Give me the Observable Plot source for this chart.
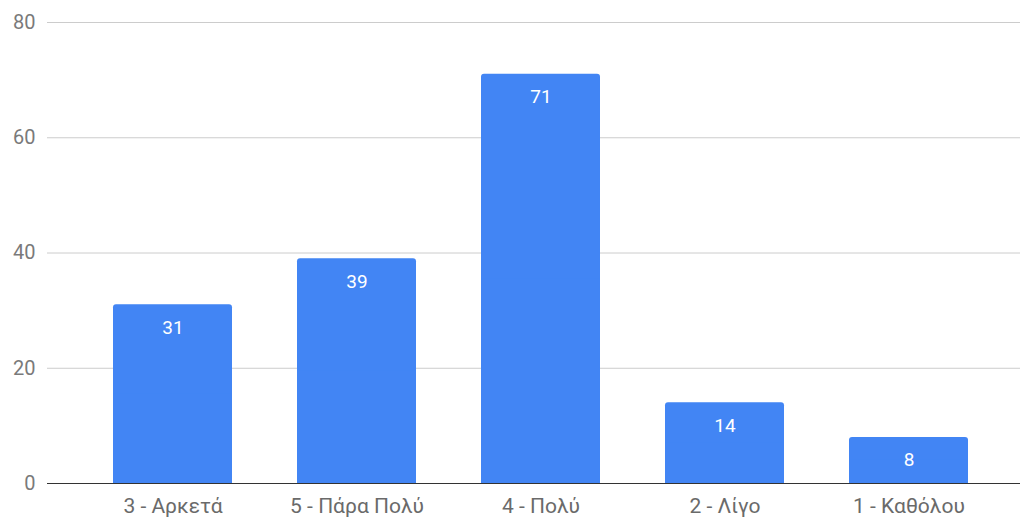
<!DOCTYPE html>
<html>
<head>
<meta charset="utf-8">
<script src="https://cdn.jsdelivr.net/npm/d3@7"></script>
<script src="https://cdn.jsdelivr.net/npm/@observablehq/plot@0.6"></script>
<style>
  html, body { margin: 0; padding: 0; background: #fff; }
  svg { display: block; }
</style>
</head>
<body>
<div id="chart"></div>
<script>
const categories = ["3 - Αρκετά", "5 - Πάρα Πολύ", "4 - Πολύ", "2 - Λίγο", "1 - Καθόλου"];
const values = [31, 39, 71, 14, 8];
const yTicks = [0, 20, 40, 60, 80];

const data = categories.map((c, i) => ({category: c, value: values[i]}));

const chart = Plot.plot({
  width: 1020,
  height: 518,
  marginTop: 22,
  marginBottom: 35,
  marginLeft: 47,
  marginRight: 0,
  style: {fontFamily: "Roboto, sans-serif", background: "#fff"},
  x: {domain: categories, range: [112, 969], paddingInner: 0.355, paddingOuter: 0, label: null},
  y: {domain: [0, 80], label: null},
  marks: [
    Plot.ruleY(yTicks.filter(d => d > 0), {stroke: "#cccccc", strokeWidth: 1}),
    Plot.barY(data, {x: "category", y: "value", fill: "#4285f4", rx: 3}),
    Plot.barY(data, {x: "category", y1: 0, y2: d => d.value / 2, fill: "#4285f4"}),
    Plot.ruleY([0], {stroke: "#333333", strokeWidth: 1.2}),
    Plot.text(data, {x: "category", y: "value", text: d => String(d.value), dy: 23, fill: "#ffffff", fontSize: 19}),
    Plot.axisY({ticks: yTicks, tickSize: 0, tickPadding: 12, fontSize: 20, color: "#7a7a7a", label: null}),
    Plot.axisX({tickSize: 0, tickPadding: 15, fontSize: 21, color: "#6a6a6a", label: null})
  ]
});
document.getElementById("chart").appendChild(chart);
</script>
</body>
</html>
